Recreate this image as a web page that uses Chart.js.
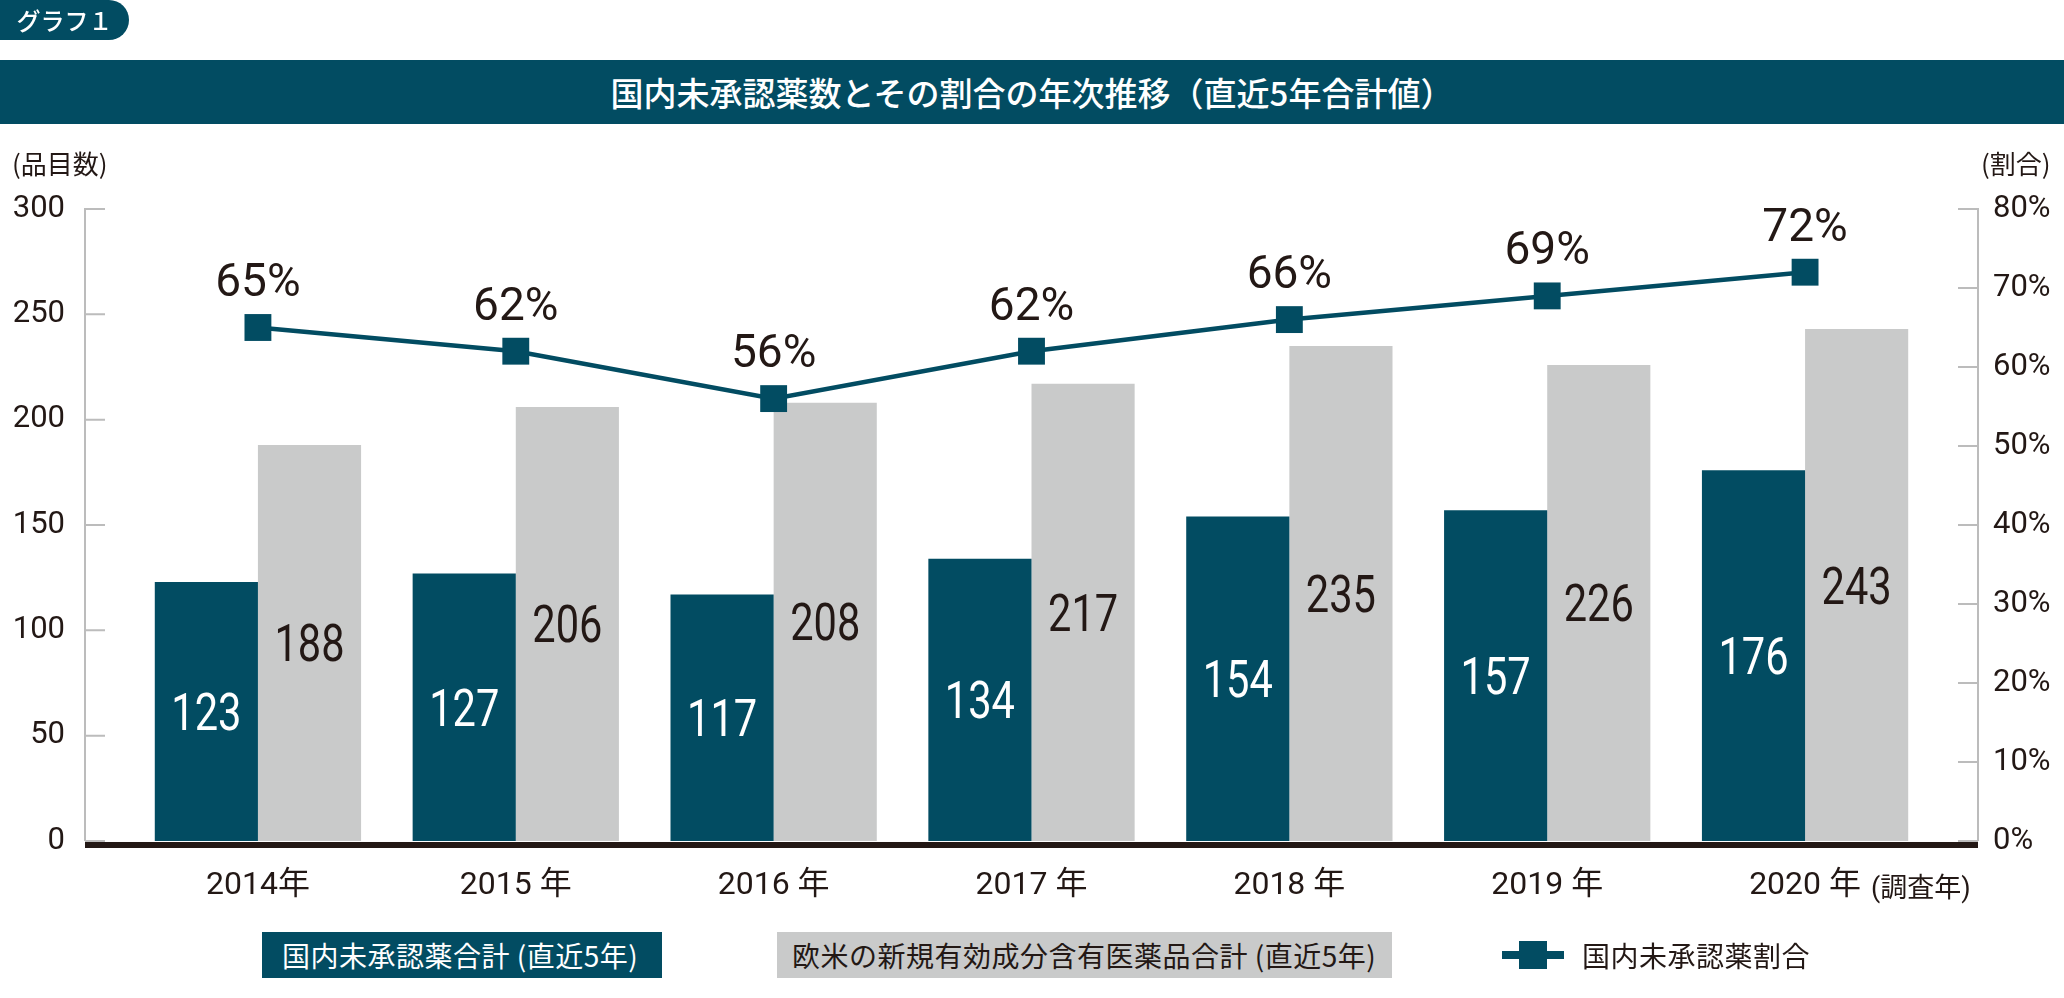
<!DOCTYPE html>
<html lang="ja">
<head>
<meta charset="utf-8">
<title>国内未承認薬数とその割合の年次推移</title>
<script src="https://cdn.jsdelivr.net/npm/chart.js@4.4.1/dist/chart.umd.min.js"></script>
<style>
  html, body { margin: 0; padding: 0; background: #fff; }
  body {
    width: 2064px; height: 998px; position: relative; overflow: hidden;
    font-family: 'Noto Sans CJK JP', sans-serif; color: #231815;
  }
  #chart-wrap { position: absolute; left: 0; top: 0; width: 2064px; height: 998px; }
  .badge {
    position: absolute; left: 0; top: 0; width: 129px; height: 40px;
    background: #024c62; border-radius: 0 20px 20px 0;
    color: #fff; font-size: 24px; font-weight: 500; line-height: 40px; text-align: center;
  }
  .title-bar {
    position: absolute; left: 0; top: 60px; width: 2064px; height: 64px;
    background: #024c62; color: #fff; text-align: center;
    font-size: 33px; font-weight: 500; line-height: 64px;
  }
  .axis-title { position: absolute; top: 147px; font-size: 26px; line-height: 32px; }
  #legend .item { position: absolute; top: 932px; height: 46px; font-size: 28px; line-height: 46px; letter-spacing: 0.5px; }
  #legend .item:nth-child(1) { left: 262px; width: 380px; padding-left: 20px; }
  #legend .item:nth-child(2) { left: 777px; width: 600px; padding-left: 15px; }
  #legend .item:nth-child(3) { left: 1502px; }
  #legend .marker { display: inline-block; position: relative; width: 62px; height: 46px; vertical-align: top; margin-right: 18px; }
  #legend .marker .ln { position: absolute; left: 0; top: 19px; width: 62px; height: 8px; }
  #legend .marker .sq { position: absolute; left: 17px; top: 9px; width: 28px; height: 28px; }
</style>
</head>
<body>
<div id="chart-wrap"><canvas id="chart" width="2064" height="998"></canvas></div>
<div class="badge">グラフ１</div>
<div class="title-bar">国内未承認薬数とその割合の年次推移（直近5年合計値）</div>
<div class="axis-title" style="left:12px">(品目数)</div>
<div class="axis-title" style="left:1981px">(割合)</div>
<div id="legend"></div>

<script>
// data
const years = ['2014年', '2015 年', '2016 年', '2017 年', '2018 年', '2019 年', '2020 年'];
const lastYearNote = '(調査年)';
const domesticUnapproved = [123, 127, 117, 134, 154, 157, 176];
const westernNewDrugs = [188, 206, 208, 217, 235, 226, 243];
const unapprovedRatio = [65, 62, 56, 62, 66, 69, 72];
const countTicks = { min: 0, max: 300, step: 50 };
const ratioTicks = { min: 0, max: 80, step: 10 };

const TEAL = '#024c62';
const GREY = '#c9caca';
const INK = '#231815';
const NUM_FONT = "Roboto, 'Noto Sans CJK JP', sans-serif";
const AXIS_GAP = 44;

// axis lines, inward tick marks and the heavy baseline
const axisPlugin = {
  id: 'axisLines',
  afterDatasetsDraw(chart) {
    const { ctx, chartArea, scales } = chart;
    const left = chartArea.left - AXIS_GAP;
    const right = chartArea.right + AXIS_GAP;
    ctx.save();
    ctx.strokeStyle = '#bcbcbc';
    ctx.lineWidth = 2;
    ctx.beginPath();
    ctx.moveTo(left, chartArea.top - 1); ctx.lineTo(left, chartArea.bottom);
    ctx.moveTo(right, chartArea.top - 1); ctx.lineTo(right, chartArea.bottom);
    scales.y.ticks.forEach(t => {
      const y = scales.y.getPixelForValue(t.value);
      ctx.moveTo(left, y); ctx.lineTo(left + 20, y);
    });
    scales.y1.ticks.forEach(t => {
      const y = scales.y1.getPixelForValue(t.value);
      ctx.moveTo(right - 20, y); ctx.lineTo(right, y);
    });
    ctx.stroke();
    ctx.fillStyle = INK;
    ctx.fillRect(left, chartArea.bottom + 1, right - left, 6);

    // note after the last year label
    const xs = scales.x;
    const i = years.length - 1;
    ctx.font = '32px ' + NUM_FONT;
    const w = ctx.measureText(years[i]).width;
    ctx.font = '27px ' + NUM_FONT;
    ctx.fillStyle = INK;
    ctx.textAlign = 'left';
    ctx.textBaseline = 'alphabetic';
    ctx.fillText(lastYearNote, xs.getPixelForTick(i) + w / 2 + 10, chartArea.bottom + 46 + 10);
    ctx.restore();
  }
};

// value labels: bar numbers are set condensed, ratio labels normal
const labelPlugin = {
  id: 'valueLabels',
  afterDatasetsDraw(chart) {
    const ctx = chart.ctx;
    ctx.save();
    ctx.textAlign = 'center';
    ctx.textBaseline = 'alphabetic';
    chart.data.datasets.forEach((ds, di) => {
      const meta = chart.getDatasetMeta(di);
      meta.data.forEach((el, j) => {
        const v = ds.data[j];
        if (ds.type === 'line') {
          ctx.font = '46px ' + NUM_FONT;
          ctx.fillStyle = INK;
          ctx.fillText(v + '%', el.x, el.y - 48 + 46 * 0.355);
        } else {
          const cy = (el.y + el.base) / 2;
          ctx.save();
          ctx.translate(el.x, cy + 52 * 0.355);
          ctx.scale(0.8, 1);
          ctx.font = '52px ' + NUM_FONT;
          ctx.fillStyle = ds.labelColor;
          ctx.fillText(String(v), 0, 0);
          ctx.restore();
        }
      });
    });
    ctx.restore();
  }
};

const chart = new Chart(document.getElementById('chart'), {
  data: {
    labels: years,
    datasets: [
      {
        type: 'bar',
        label: '国内未承認薬合計 (直近5年)',
        data: domesticUnapproved,
        backgroundColor: TEAL,
        labelColor: '#ffffff',
        yAxisID: 'y',
        order: 2,
        categoryPercentage: 0.8,
        barPercentage: 1.0
      },
      {
        type: 'bar',
        label: '欧米の新規有効成分含有医薬品合計 (直近5年)',
        data: westernNewDrugs,
        backgroundColor: GREY,
        labelColor: INK,
        yAxisID: 'y',
        order: 2,
        categoryPercentage: 0.8,
        barPercentage: 1.0
      },
      {
        type: 'line',
        label: '国内未承認薬割合',
        data: unapprovedRatio,
        borderColor: TEAL,
        backgroundColor: TEAL,
        borderWidth: 4.5,
        pointStyle: 'rect',
        pointRadius: 19,
        pointBorderWidth: 0,
        yAxisID: 'y1',
        order: 0
      }
    ]
  },
  options: {
    responsive: false,
    animation: false,
    layout: { padding: { top: 209, left: 0, right: 0, bottom: 0 } },
    plugins: { legend: { display: false }, tooltip: { enabled: false } },
    scales: {
      x: {
        offset: true,
        grid: { display: false, drawTicks: false },
        border: { display: false },
        ticks: { color: INK, font: { family: NUM_FONT, size: 32 }, padding: 26, maxRotation: 0 },
        afterFit(scale) { scale.height = 157; }
      },
      y: {
        position: 'left',
        min: countTicks.min, max: countTicks.max,
        grid: { display: false, drawTicks: false },
        border: { display: false },
        ticks: { stepSize: countTicks.step, color: INK, font: { family: NUM_FONT, size: 31 }, padding: 64 },
        afterFit(scale) { scale.width = 129; }
      },
      y1: {
        position: 'right',
        min: ratioTicks.min, max: ratioTicks.max,
        grid: { display: false, drawTicks: false },
        border: { display: false },
        ticks: { stepSize: ratioTicks.step, color: INK, font: { family: NUM_FONT, size: 31 }, padding: 59,
                 callback: v => v + '%' },
        afterFit(scale) { scale.width = 130; }
      }
    }
  },
  plugins: [axisPlugin, labelPlugin]
});

// legend built from the datasets
const legendEl = document.getElementById('legend');
chart.data.datasets.forEach(ds => {
  const item = document.createElement('div');
  item.className = 'item';
  if (ds.type === 'line') {
    item.innerHTML = '<span class="marker"><span class="ln"></span><span class="sq"></span></span>';
    item.querySelector('.ln').style.background = ds.borderColor;
    item.querySelector('.sq').style.background = ds.backgroundColor;
    item.appendChild(document.createTextNode(ds.label));
    item.style.color = INK;
  } else {
    item.textContent = ds.label;
    item.style.background = ds.backgroundColor;
    item.style.color = ds.labelColor;
  }
  legendEl.appendChild(item);
});
</script>
</body>
</html>
